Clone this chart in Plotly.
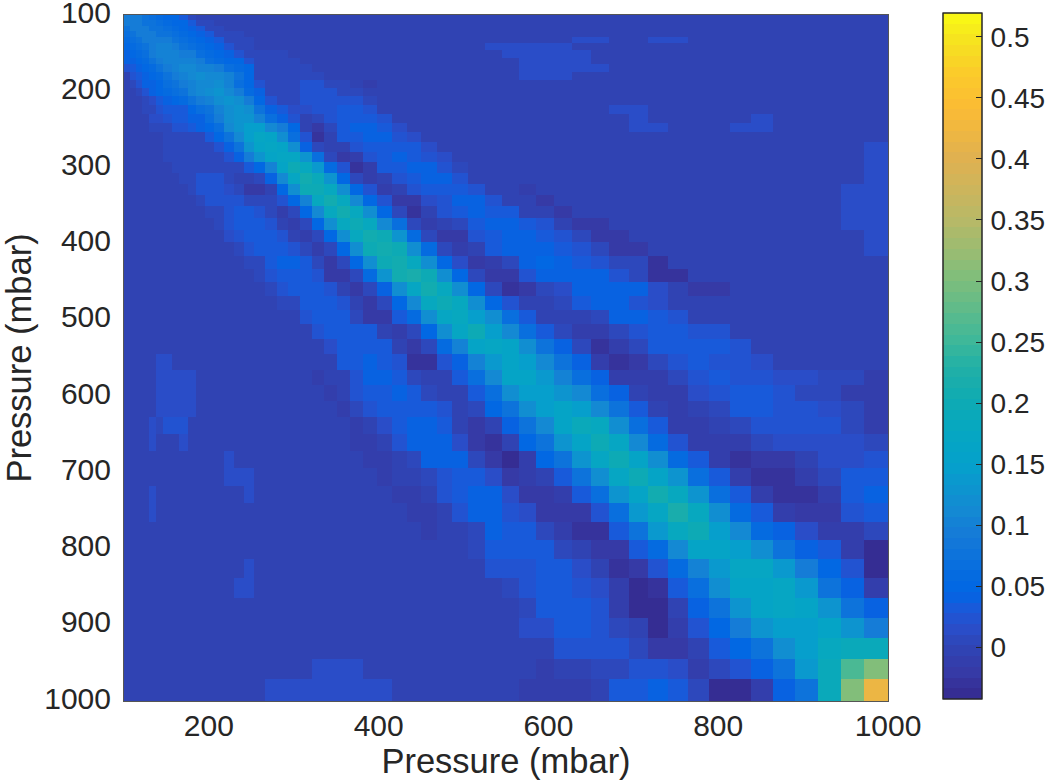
import numpy as np
import plotly.graph_objects as go

pressure_edges = [100,106.5,113.8,121.6,129.5,137.3,146.5,156,164.8,174.8,185,195.4,206,217.8,229.6,241.4,253.1,266.1,279.9,293.2,307,321.1,335.6,350.6,366.2,381.9,398.4,416.1,433,450.2,468.4,486.4,505.6,524.9,544.7,565.3,585.7,606.5,627.7,649.8,671.7,694.5,717.3,740.8,764.7,789.1,813.9,839,864.5,890.8,917.5,944.3,971.4,1000]

# values in hundredths; each row: (first column, values from there), rest is 0
row_00 = [(0,[9,9,9,8,7,6,5,5,3,1])]
row_01 = [(0,[9,9,9,8,8,7,6,5,5,3,1,.5])]
row_02 = [(0,[8,9,9,9,8,8,7,6,5,4,3,1,1])]
row_03 = [(0,[7,8,9,9,9,8,8,7,6,5,4,3,1,1,.7])]
row_04 = [(0,[6,7,8,9,9,9,9,8,7,6,5,4,3,1,1,.7]),(38,[1.5,1.5]),(42,[1.5,1.5])]
row_05 = [(0,[5,6,7,8,9,10,10,9,8,7,6,5,4,2,1,1]),(33,[1.5,1.5,1.5,1.5,1.5])]
row_06 = [(0,[4,5,6,7,9,10,10,10,9,9,7,6,5,4,2,1,.7,.7,.7]),(34,[1.5,1.5,1.5,1.5,1.5])]
row_07 = [(0,[4,4,5,6,8,9,10,10,10,10,9,7,6,5,5,2,.7,.7,.7,.7]),(35,[1.5,1.5,1.5,1.5])]
row_08 = [(0,[2,3,4,5,6,8,9,10,11,11,10,10,9,7,6,5,1,.7,.7,.7,.7]),(35,[1.5,1.5,1.5,1.5,1.5])]
row_09 = [(0,[0,2,3,4,5,6,8,9,10,11,12,11,11,10,8,5,1,.7,.7,.7,.7,.7]),(35,[1.5,1.5,1.5])]
row_10 = [(1,[1,2,4,4,5,7,8,9,10,11,11,12,10,7,5,2,.7,.7,.7,2,2,1,1,0,-1.5])]
row_11 = [(2,[1,2,4,5,6,7,8,10,11,12,13,11,9,6,4,1,1,1,2,2,2,1,1])]
row_12 = [(3,[1,1.5,3,4,5,6,8,9,10,12,13,12,9,5,2,1,1,2,2,2,2,2,1])]
row_13 = [(3,[1,1,2.5,3.5,3.5,3.5,5,7,8,10,12,13,12,8,4,3,1.5,1.5,2,2.5,3,3,2]),(40,[1.5,1.5])]
row_14 = [(4,[1.5,1.5,2.5,3,3,4,4,7,9,12,13,13,10,7,4,2,0,1,2.5,3.5,3.5,3,2]),(41,[1.5]),(47,[1.5])]
row_15 = [(4,[1,1,1,2,2,3,4,5,7,11,13,15,15,11,9,5,-.5,-2,1,3.5,4,4,3,1.5]),(41,[1.5,1.5]),(46,[1.5,1.5])]
row_16 = [(6,[1,1,1,1,1,3.5,5,8,11,15,17,16,12,7,2,-2.5,-.5,3,3.5,4,4,2,1.5])]
row_17 = [(6,[1,1,1,1,1,1,2,4,8,13,16,17,16,12,4,1,-.5,-.5,2,3.5,3.5,3.5,3,1.5]),(52,[1.5])]
row_18 = [(6,[.5,.5,.5,.5,.5,.5,.5,2.5,4.5,9,13,16,17,17,13,7,1,-2,-1,2,3.5,4,3.5,2.5,1.5]),(52,[1.5])]
row_19 = [(7,[.5,.5,.5,.5,.5,.5,.5,.5,3,5,10,16,19.5,18,14,6,2,-2.5,-1,3,3.5,4,4,2,1]),(52,[1.5])]
row_20 = [(8,[1,1,2,2,2,1,0,0,1,4,11,17,21,19,13,5,1,-1.5,0,2.5,3.5,4,4,2]),(52,[1.5])]
row_21 = [(9,[1,2,2,2,1.5,1,-2,-2,0,5,12,19.5,20,18,12,5,2,-1.5,-.5,2,3,3.5,3.5,2.5]),(35,[-1.5]),(51,[1.5,1.5])]
row_22 = [(10,[1,2,2,2,2,1,1,1,2,5,10,18,21,18,11,5,2,-2,-2,1.5,2.5,4,4,2]),(36,[-2]),(51,[1.5,1.5])]
row_23 = [(11,[1,1,2,3,3,2,.5,-1,1,5,11,18,21,18,12,5,1,-2.5,0,2.5,3.5,4.5,3.5,3,-.5,-.5,-2]),(51,[1.5,1.5])]
row_24 = [(12,[1,2,3,3,3,2,0,-1,1,5,12,18,19.5,18,11,7,1,-1.5,-.5,1,3.5,4,4,3,2,-.5,-2,-2]),(51,[1.5,1.5])]
row_25 = [(13,[1.5,2,3,3,3,2,0,-1,1,5,12,18,21,19.5,13,6,1,-2,-2,2,3,4.5,4,3,2,1,-2,-2]),(52,[1.5])]
row_26 = [(14,[1,2,3.5,3.5,3.5,2.5,.5,-1.5,1,5,12,19.5,21,19.5,12,6,1,-1.5,-.5,3,4,4.5,4,3,2,1,-2,-2]),(52,[1.5])]
row_27 = [(15,[1,1,3,4,4,3,1,-2,1,5,12,20,21,18,12,5,1.5,-2,-1,1,4,5,4.5,3,2,.5,.5,-2.5])]
row_28 = [(16,[1,2,3.5,3.5,3,2,-2,-2,1,6,13,20.5,21.5,19.5,12,5,1,-2,-2,2,4,4,4,4,2,.5,-2.5,-2.5])]
row_29 = [(17,[1,2,3,3,3,2,-.5,-2,1,4,12,17,21,18,12,5,1,-2.5,-2,.5,1.5,4,4,4,4,1.5,0,-2,-2])]
row_30 = [(18,[1,1,3,3.5,3.5,2,-.5,-2,.5,5,11,18,19.5,18,12,5,2.5,0,0,1,3,4,4,2.5,1.5])]
row_31 = [(20,[2,3.5,3.5,3,1,-2,-2,3,6,12,17,18,15,12,7,3.5,0,0,0,1,4,4,3.5,2])]
row_32 = [(21,[2,3,3.5,3.5,3,-.5,-1.5,1,5,12,17,19.5,15,11,7,3.5,1,-1.5,-1.5,1,2.5,3.5,3.5,2,2])]
row_33 = [(22,[1.5,3,3.5,3.5,3,0,-2,1,6,10,16,17,16,12,8,4,1,-3,-1,1,3.5,3.5,3.5,3,2])]
row_34 = [(5,[1.5,1.5]),(23,[3,3.5,4,3.5,2.5,-2.5,-2.5,2,4,10,14,16,15,11,7.5,4,-1,-3,-2,1,2.5,3,2.5,2.5,1.5])]
row_35 = [(5,[1.5,1.5,1.5,1.5,1.5]),(21,[-1.5,-.5,-.5,2.5,4,4,3.5,1,-.5,-.5,3.5,7,11,16,16,14,10,7,4,-1,-1.5,-1.5,1,2.5,3.5,2.5,2.5,1.5,1.5,.5,.5,-1])]
row_36 = [(5,[1.5,1.5,1.5,1.5,1.5]),(22,[-1.5,0,2,3,3.5,4,3.5,1,-.5,0,3.5,7,12,15,15,13,11,7,4,0,-1.5,-1.5,1.5,2.5,3.5,3.5,2.5,1,.5,-1,-1])]
row_37 = [(5,[1.5,1.5,1.5,1.5,1.5]),(23,[-1.5,.5,2,3,3.5,3.5,3.5,2,0,1,5,8,12,15,16,15,11,8,3.5,-.5,-1,0,1,3.5,3.5,2,2,1.5,.5,-1])]
row_38 = [(4,[1.5,.5,2,2,2]),(24,[-1.5,0,1.5,3,4,4,3,0,-2,0,4,8,11,16,19,18,12,7,3,-1.5,-1.5,0,1,2.2,2.2,2.2,2,1,-1])]
row_39 = [(4,[1.5]),(8,[1.5]),(24,[-1.5,-1.5,0,2,4,4,4,1.5,-2,-3,0,5,8,13,16,20,17,11,6,2,-1.5,-1.5,-1,.5,1.5,1.5,1.5,1.5,1])]
row_40 = [(13,[1.5]),(25,[-1.5,-1.5,0,1,4,4,4,1,-2,-3.5,-1,5,8,13,17,20,16,12,6,3,-1,-3,-2,-2,-.5,1.5,1.5,2.5])]
row_41 = [(13,[1.5,1.5,1.5]),(26,[-1.5,0,0,1,2.5,3.5,3,1.5,-2,-1.5,0,3,8,12,17,20,16,13,7,3.5,-1,-3,-3,-1.5,.5,3,3.5])]
row_42 = [(4,[1.5]),(15,[1.5]),(27,[-1.5,-1.5,-.5,2,3,4,4,1.5,-2,-2,-1,3.5,7,13,16,21,18,13,7,3,-1,-3,-3,-1,3,4.5])]
row_43 = [(4,[1.5]),(28,[-1.5,-1.5,-.5,2,4,4,2.5,1.5,-2,-2,-2,2.5,7,14,17,21.5,18,12,6,3.5,-1,-2,-2,2.5,3])]
row_44 = [(29,[-1.5,-.5,-.5,1,4,3.5,3,1,-1,-2.5,-2.5,3,8,14,18,19.5,15,11,6,4,1.5,-1,-1.5,.5])]
row_45 = [(32,[1,3,3,3.5,3,1,0,-2,-2,3.5,6,11,16,16,15,12,8,4,3.5,-1,-4.5])]
row_46 = [(15,[1.5]),(33,[2,2.5,2.5,3.5,3.5,1.5,-.5,-3,-2,2,6,10,14,17,17,14,9,5,2,-4.5])]
row_47 = [(14,[1.5,1.5]),(34,[1,2,3.5,3.5,2.5,1.5,-1.5,-3.5,-2.5,3,7,12,16,16,17,14,8,4.5,-1.5])]
row_48 = [(35,[1,3,3,3,2,-1,-3.5,-3.5,-.5,4,8,13,16,17,16,13,8,4.5])]
row_49 = [(35,[1.5,1.5,3,3,2,1,-.5,-3.5,-1.5,2,5,9,13,15,15,16,13,9])]
row_50 = [(37,[2,2,2,2,.5,-2,-2,-.5,3.5,5,8,12,15,18,19,19])]
row_51 = [(21,[1.5,1.5,1.5,1.5]),(36,[-1,-.5,-.5,1,1,2.5,2.5,1.5,-1,.5,2.5,4,8,14,19,26,30])]
row_52 = [(17,[1.5,1.5,1.5,1.5,1.5,1.5,1.5,1.5,1.5,1.5]),(35,[-1,-1,-1,-1,0,3,3.5,4,3,1,-4,-4,-1,4,8,19,30,42])]

rows = [row_00,row_01,row_02,row_03,row_04,row_05,row_06,row_07,row_08,row_09,row_10,row_11,row_12,row_13,
        row_14,row_15,row_16,row_17,row_18,row_19,row_20,row_21,row_22,row_23,row_24,row_25,row_26,row_27,
        row_28,row_29,row_30,row_31,row_32,row_33,row_34,row_35,row_36,row_37,row_38,row_39,row_40,row_41,
        row_42,row_43,row_44,row_45,row_46,row_47,row_48,row_49,row_50,row_51,row_52]

n = len(pressure_edges) - 1
Z = np.zeros((n, n))
for i, segs in enumerate(rows):
    for start, vals in segs:
        for k, v in enumerate(vals):
            if start + k < n:
                Z[i, start + k] = v / 100.0

ZMIN, ZMAX = -0.0424, 0.5192
anchor_vals = [-0.0424,-0.02,0,0.015,0.03,0.045,0.07,0.09,0.11,0.13,0.15,0.18,0.20,0.23,0.25,0.30,0.35,0.40,0.44,0.47,0.50,0.5192]
anchor_cols = ["#352A8E","#363AA6","#2F44B5","#2A4DC8","#1C58D8","#0066E4","#0A70DD","#1579D8","#1488D3","#0D95CF","#04A1CB","#07A8C0","#0DAAB4","#22B0A6","#3DB89A","#7DBE7C","#B8B967","#E0B150","#FBBB35","#FBCB2A","#F5E61E","#FAFB14"]
rgb = np.array([[int(c[i:i+2], 16) for i in (1, 3, 5)] for c in anchor_cols], float)
levels = 64
scale = []
for b in range(levels):
    mid = ZMIN + (b + 0.5) / levels * (ZMAX - ZMIN)
    col = [float(np.interp(mid, anchor_vals, rgb[:, c])) for c in range(3)]
    s = "rgb(%d,%d,%d)" % tuple(round(c) for c in col)
    scale.append([b / levels, s])
    scale.append([(b + 1) / levels, s])

cbar_ticks = [0, 0.05, 0.1, 0.15, 0.2, 0.25, 0.3, 0.35, 0.4, 0.45, 0.5]
cbar_labels = ["0", "0.05", "0.1", "0.15", "0.2", "0.25", "0.3", "0.35", "0.4", "0.45", "0.5"]
INK = "#262626"
FONT = "Liberation Sans"

bar_geometry = dict(x=(943 - 124) / 764, xanchor="left", xpad=0, ypad=0, thickness=39, thicknessmode="pixels",
                    len=685.5, lenmode="pixels", y=0.0025, yanchor="bottom", tickvals=cbar_ticks)

fig = go.Figure()
fig.add_trace(go.Heatmap(
    x=pressure_edges, y=pressure_edges, z=Z, zmin=ZMIN, zmax=ZMAX, colorscale=scale,
    colorbar=dict(outlinecolor=INK, outlinewidth=1, ticktext=cbar_labels,
                  ticks="outside", ticklen=3, tickcolor="rgba(0,0,0,0)", tickwidth=1,
                  tickfont=dict(family=FONT, size=28, color=INK), **bar_geometry),
))
# clear second colour bar over the first, only to carry the inward tick marks
clear = "rgba(0,0,0,0)"
fig.add_trace(go.Heatmap(
    x=pressure_edges, y=pressure_edges, z=Z, zmin=ZMIN, zmax=ZMAX, hoverinfo="skip",
    colorscale=[[0, clear], [1, clear]],
    colorbar=dict(outlinecolor=INK, outlinewidth=1, showticklabels=False,
                  ticks="inside", ticklen=6, tickcolor=INK, tickwidth=1, **bar_geometry),
))

common = dict(showgrid=False, zeroline=False, showline=True, mirror=True, linecolor="#555555", linewidth=1,
              ticklabeloverflow="allow", tickfont=dict(family=FONT, size=30, color=INK))
fig.update_xaxes(range=[100, 1000], tickvals=[200, 400, 600, 800, 1000], ticks="", ticklabelstandoff=-2,
                 title=dict(text="Pressure (mbar)", font=dict(family=FONT, size=34.5, color=INK), standoff=4), **common)
fig.update_yaxes(range=[1000, 100], tickvals=list(range(100, 1001, 100)), ticks="outside", ticklen=6,
                 tickcolor="rgba(0,0,0,0)", ticklabelshift=3,
                 title=dict(text="Pressure (mbar)", font=dict(family=FONT, size=34.5, color=INK), standoff=14), **common)
fig.update_layout(width=1048, height=781, paper_bgcolor="white", plot_bgcolor="white",
                  margin=dict(l=124, r=160, t=15, b=80, autoexpand=False))
fig.write_html("out.html", config=dict(displayModeBar=False), post_script="document.body.style.margin='0';")
